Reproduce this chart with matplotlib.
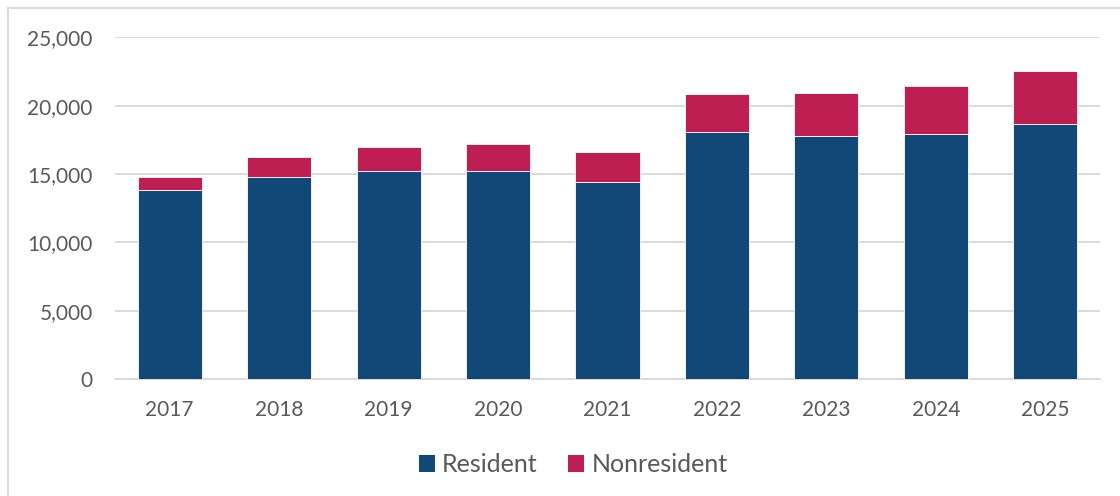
import matplotlib
matplotlib.use("Agg")
import matplotlib.pyplot as plt
from matplotlib.ticker import FuncFormatter, MultipleLocator
from matplotlib.lines import Line2D
from matplotlib.patches import Patch

years = ["2017", "2018", "2019", "2020", "2021", "2022", "2023", "2024", "2025"]
resident = [13800, 14800, 15200, 15200, 14450, 18100, 17800, 17900, 18650]
nonresident = [970, 1430, 1760, 2000, 2190, 2740, 3160, 3530, 3880]

NAVY = "#124877"
CRIMSON = "#BE1E52"
TEXT = "#595959"
GRID = "#D9D9D9"

plt.rcParams["font.family"] = ["Lato", "DejaVu Sans"]

fig = plt.figure(figsize=(11.2, 4.96), dpi=100)
ax = fig.add_axes([115 / 1120, 1 - 379 / 496, (1100 - 115) / 1120, (379 - 37.4) / 496])

x = range(len(years))
ax.bar(x, resident, width=0.585, color=NAVY, edgecolor="white", linewidth=0.6, zorder=3, label="Resident")
ax.bar(x, nonresident, width=0.585, bottom=resident, color=CRIMSON, edgecolor="white", linewidth=0.6,
       zorder=3, label="Nonresident")

ax.set_xlim(-0.5, len(years) - 0.5)
ax.set_ylim(0, 25000)
ax.yaxis.set_major_locator(MultipleLocator(5000))
ax.yaxis.set_major_formatter(FuncFormatter(lambda v, p: f"{int(v):,}"))
ax.set_xticks(list(x))
ax.set_xticklabels(years)
ax.grid(axis="y", color=GRID, linewidth=1.3, zorder=0)
for s in ["top", "right", "left"]:
    ax.spines[s].set_visible(False)
ax.spines["bottom"].set_color(GRID)
ax.spines["bottom"].set_linewidth(1.3)
ax.tick_params(axis="both", length=0, labelcolor=TEXT, labelsize=15)
ax.tick_params(axis="y", pad=16)
ax.tick_params(axis="x", pad=15)

handles = [Patch(facecolor=NAVY), Patch(facecolor=CRIMSON)]
fig.legend(handles, ["Resident", "Nonresident"], loc="center", bbox_to_anchor=(573 / 1120, 1 - 465 / 496),
           ncol=2, frameon=False, fontsize=18, labelcolor=TEXT, handlelength=0.64, handleheight=0.64,
           handletextpad=0.3, columnspacing=1.2)

# outer frame (left and top edges visible)
fig.add_artist(Line2D([8 / 1120, 8 / 1120], [0, 1 - 8 / 496], transform=fig.transFigure, color="#D9D9D9", linewidth=1.3))
fig.add_artist(Line2D([8 / 1120, 1], [1 - 8 / 496, 1 - 8 / 496], transform=fig.transFigure, color="#D9D9D9", linewidth=1.3))

fig.savefig("out.png", dpi=100)
